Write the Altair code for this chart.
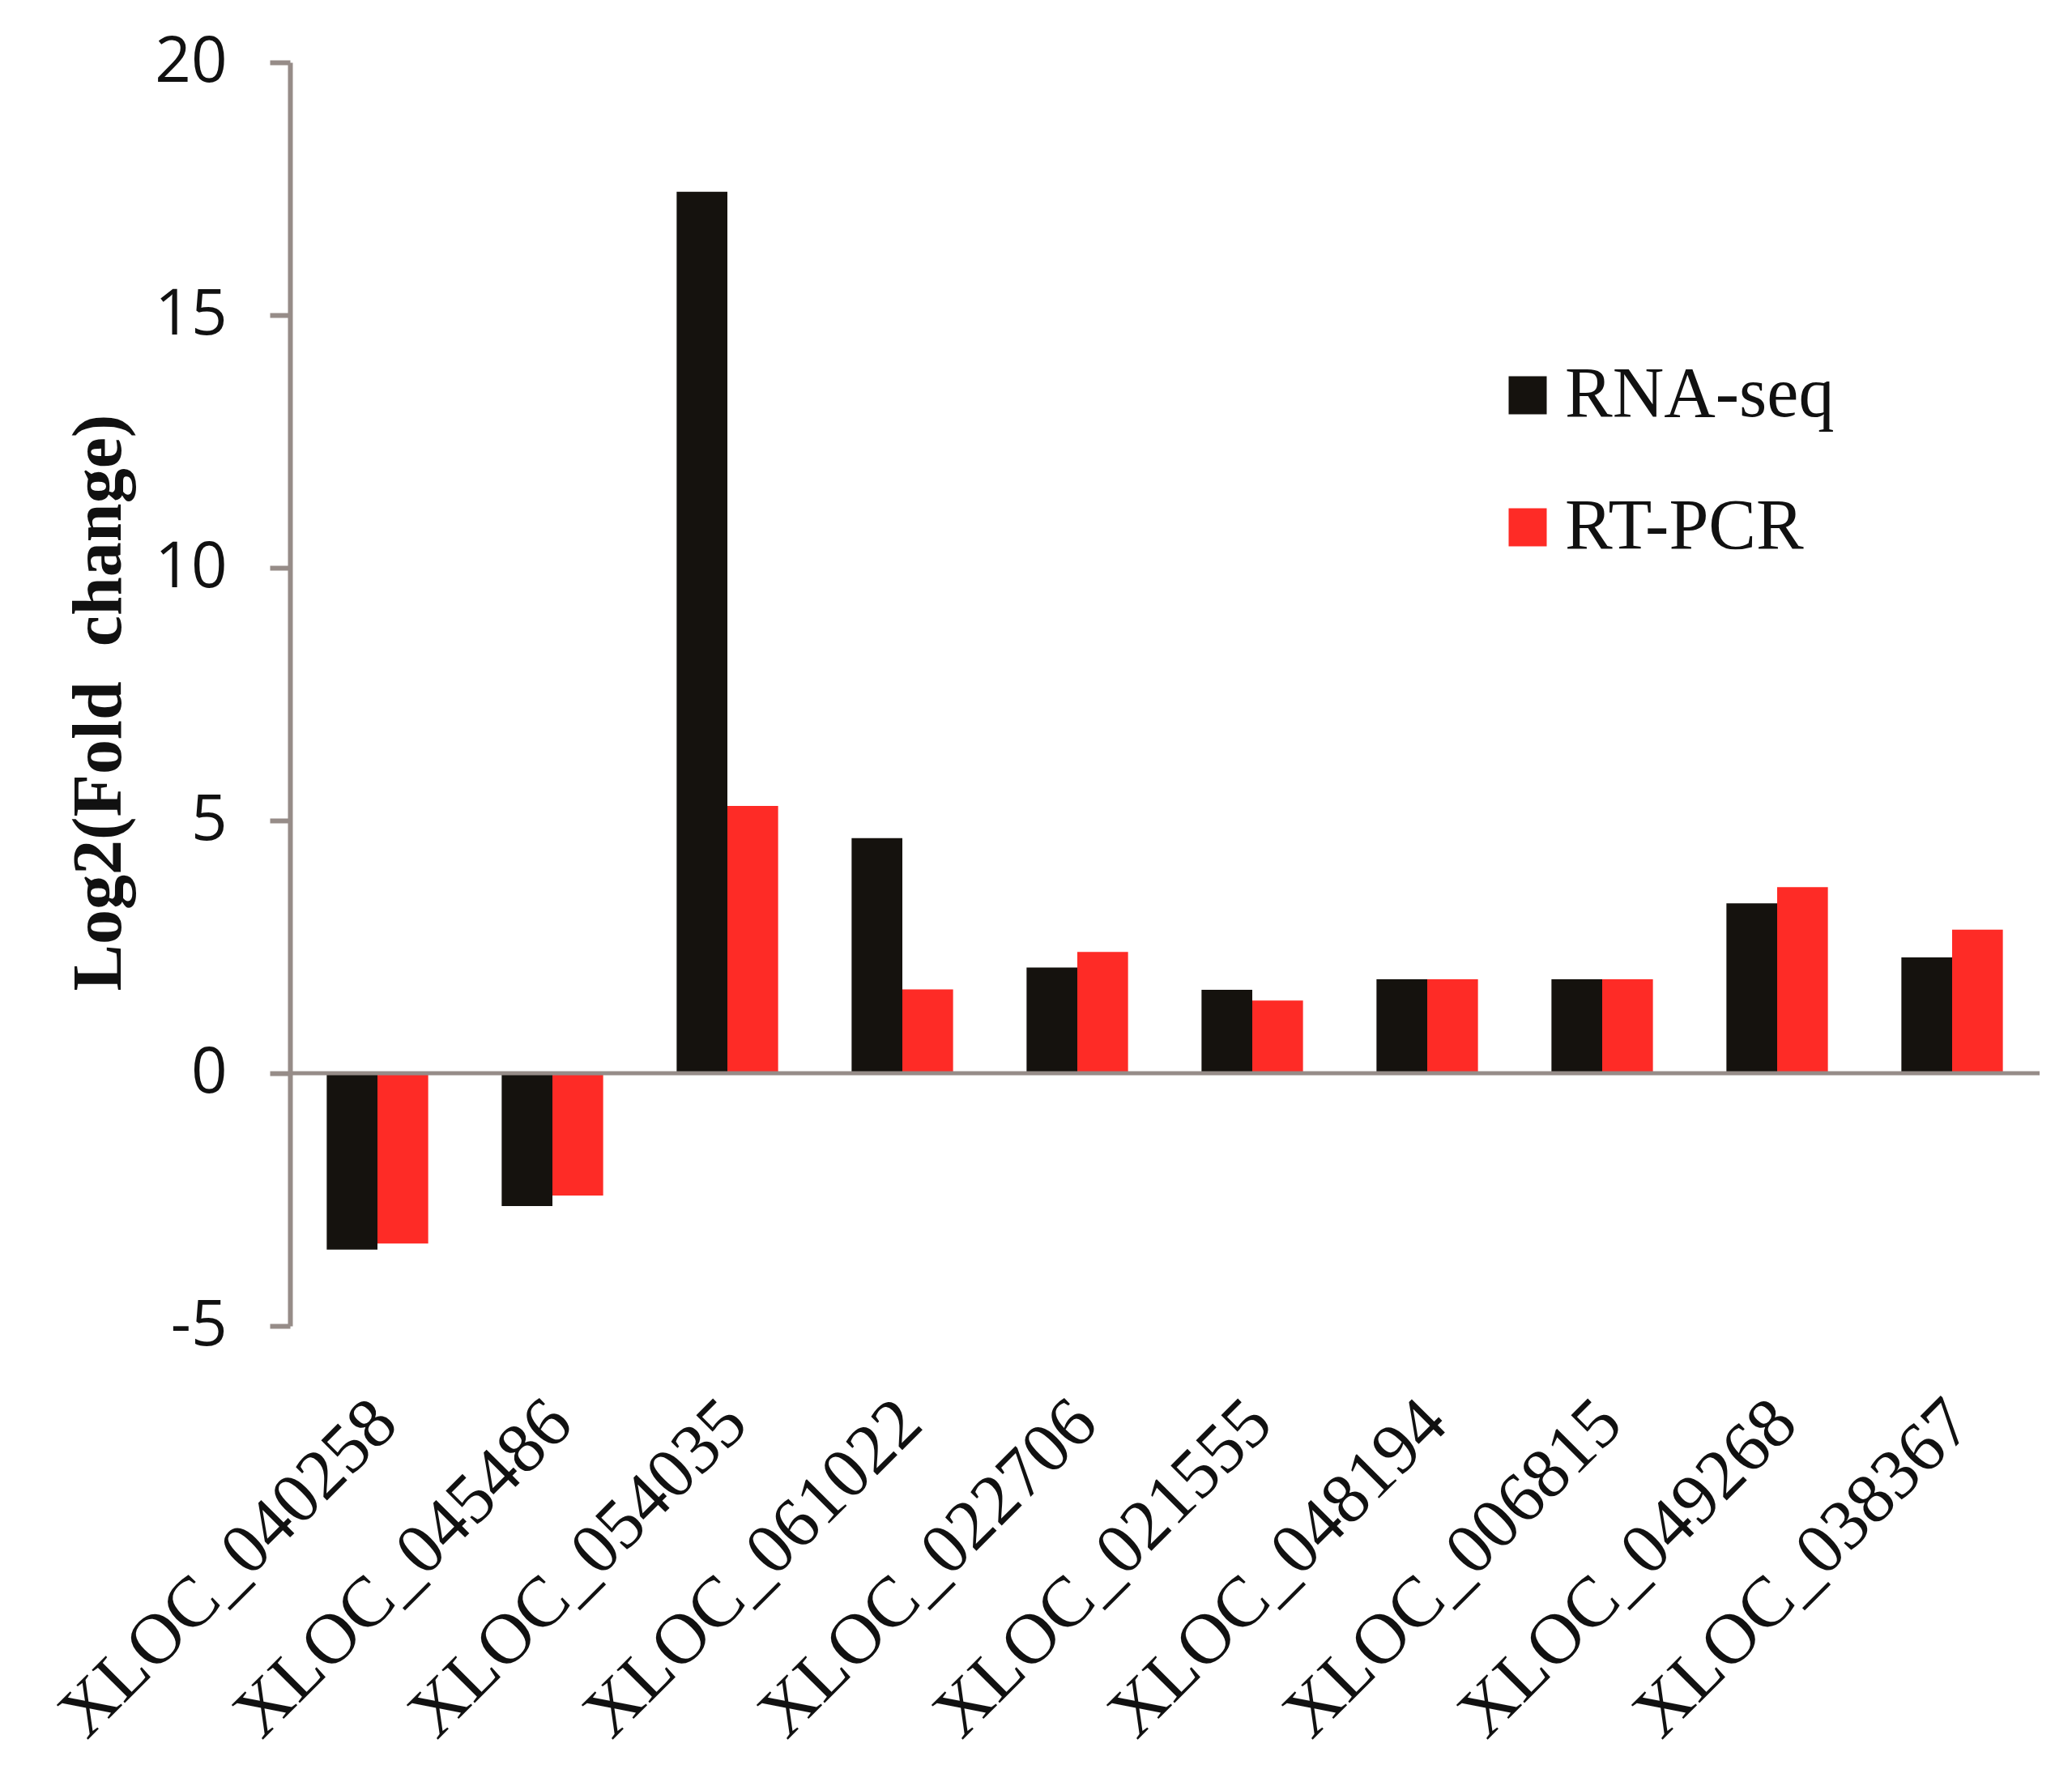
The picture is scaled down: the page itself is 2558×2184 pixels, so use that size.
import altair as alt
import pandas as pd

categories = ["XLOC_040258", "XLOC_045486", "XLOC_054035", "XLOC_061022", "XLOC_022706",
              "XLOC_021555", "XLOC_048194", "XLOC_006815", "XLOC_049268", "XLOC_038367"]
rna_seq = [-3.49, -2.63, 17.44, 4.65, 2.09, 1.65, 1.86, 1.86, 3.36, 2.29]
rt_pcr = [-3.37, -2.42, 5.29, 1.66, 2.40, 1.44, 1.86, 1.86, 3.68, 2.84]
series = ["RNA-seq", "RT-PCR"]
y_ticks = [-5, 0, 5, 10, 15, 20]

rows = []
for c, a, b in zip(categories, rna_seq, rt_pcr):
    rows.append({"gene": c, "series": series[0], "value": a})
    rows.append({"gene": c, "series": series[1], "value": b})
df = pd.DataFrame(rows)

AXIS_GRAY = "#968c88"

bars = alt.Chart(df).mark_bar().encode(
    x=alt.X("gene:N", sort=categories,
            scale=alt.Scale(paddingInner=0.42, paddingOuter=0.21),
            axis=alt.Axis(title=None, domain=False, ticks=False, tickSize=0,
                          labelAngle=-45, labelAlign="right", labelBaseline="middle",
                          labelPadding=106, labelOffset=10,
                          labelFont="Liberation Serif", labelFontSize=88,
                          labelColor="#111111", labelOverlap=False, labelLimit=0)),
    xOffset=alt.XOffset("series:N", sort=series, scale=alt.Scale(paddingInner=0, paddingOuter=0)),
    y=alt.Y("value:Q",
            scale=alt.Scale(domain=[-5, 20], nice=False, zero=False),
            axis=alt.Axis(title="Log2(Fold\u00a0 change)", values=y_ticks, grid=False,
                          domainColor=AXIS_GRAY, domainWidth=6,
                          tickColor=AXIS_GRAY, tickWidth=6, tickSize=25,
                          labelFont="Open Sans", labelFontSize=78, labelColor="#111111",
                          labelPadding=53, labelExpr="'' + datum.value",
                          titleFont="Liberation Serif", titleFontSize=86,
                          titleFontWeight="bold", titleColor="#111111",
                          titleX=-210, titleY=790, titleBaseline="alphabetic",
                          titleAngle=-90)),
    color=alt.Color("series:N", sort=series,
                    scale=alt.Scale(domain=series, range=["#15120e", "#fe2b26"]),
                    legend=alt.Legend(title=None, orient="none", legendX=1484, legendY=367,
                                      symbolType="square", symbolSize=2209,
                                      symbolStrokeWidth=0, labelFont="Liberation Serif",
                                      labelFontSize=88, labelColor="#111111",
                                      labelOffset=2, rowPadding=75, labelLimit=0)),
)

zero_line = alt.Chart(pd.DataFrame({"v": [0]})).mark_rule(
    color=AXIS_GRAY, strokeWidth=5
).encode(y="v:Q")

chart = alt.layer(bars, zero_line).properties(
    width=2160, height=1560,
    padding={"left": 350, "top": 69, "right": 20, "bottom": 545},
    autosize=alt.AutoSizeParams(type="none"),
).configure_view(strokeWidth=0)

chart.save("out.html", embed_options={"renderer": "svg", "actions": False})
